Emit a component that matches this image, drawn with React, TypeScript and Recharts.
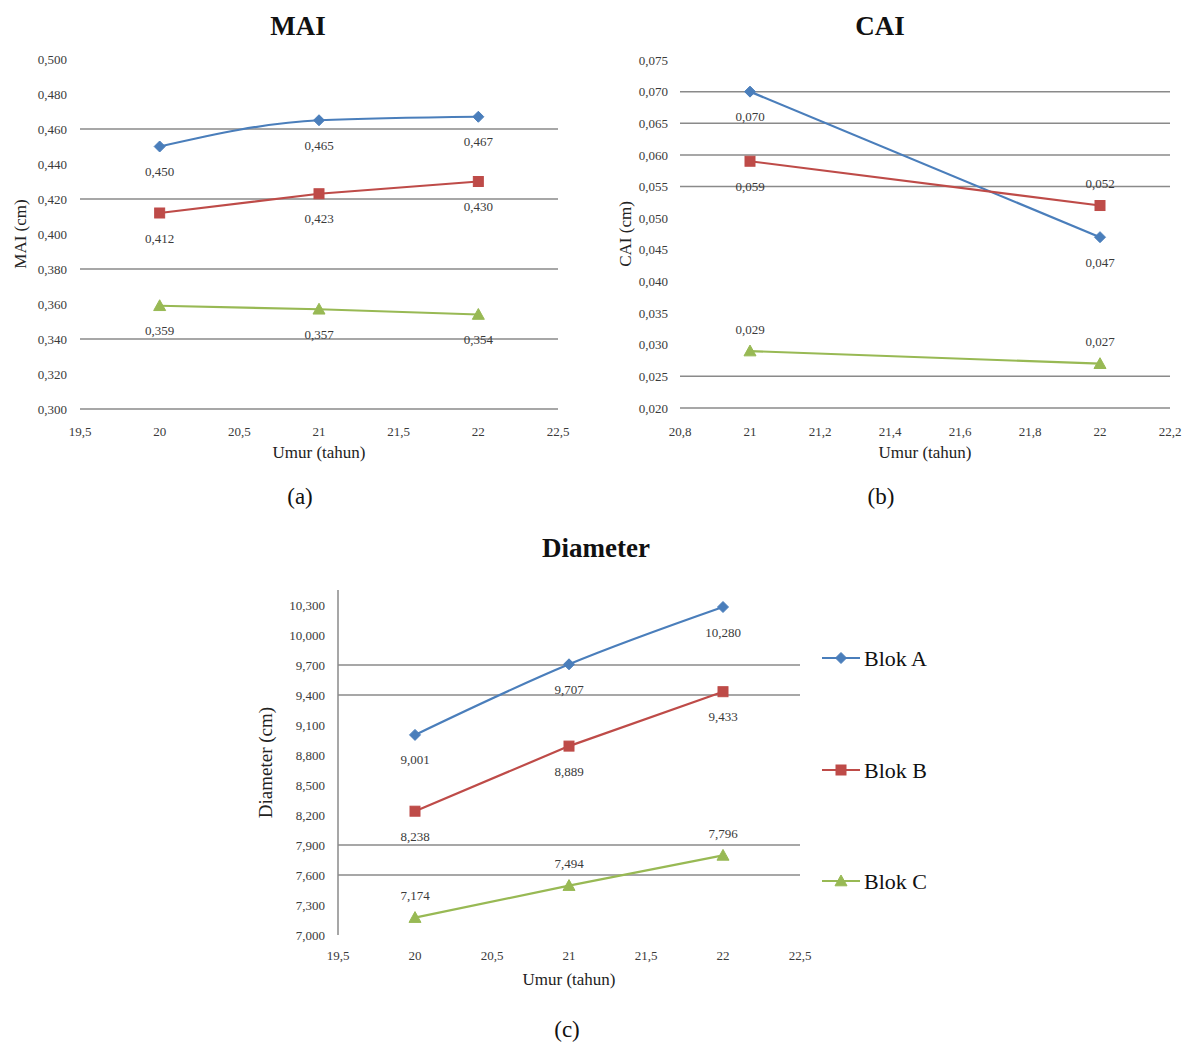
import React from 'react';
import { LineChart, Line, XAxis, YAxis, ReferenceLine, LabelList } from 'recharts';

// ---------- data ----------
const seriesNames = ['Blok A', 'Blok B', 'Blok C'];
const seriesColors = ['#4A7EBB', '#BE4B48', '#98B954'];
const seriesShapes = ['diamond', 'square', 'triangle'];

const maiAge = [20, 21, 22];
const maiBlokA = [0.450, 0.465, 0.467];
const maiBlokB = [0.412, 0.423, 0.430];
const maiBlokC = [0.359, 0.357, 0.354];
const maiYTicks = [0.300, 0.320, 0.340, 0.360, 0.380, 0.400, 0.420, 0.440, 0.460, 0.480, 0.500];
const maiGrid = [0.300, 0.340, 0.380, 0.420, 0.460];
const maiXTicks = [19.5, 20, 20.5, 21, 21.5, 22, 22.5];

const caiAge = [21, 22];
const caiBlokA = [0.070, 0.047];
const caiBlokB = [0.059, 0.052];
const caiBlokC = [0.029, 0.027];
const caiYTicks = [0.020, 0.025, 0.030, 0.035, 0.040, 0.045, 0.050, 0.055, 0.060, 0.065, 0.070, 0.075];
const caiGrid = [0.020, 0.025, 0.055, 0.060, 0.065, 0.070];
const caiXTicks = [20.8, 21, 21.2, 21.4, 21.6, 21.8, 22, 22.2];

const diaAge = [20, 21, 22];
const diaBlokA = [9.001, 9.707, 10.280];
const diaBlokB = [8.238, 8.889, 9.433];
const diaBlokC = [7.174, 7.494, 7.796];
const diaYTicks = [7.0, 7.3, 7.6, 7.9, 8.2, 8.5, 8.8, 9.1, 9.4, 9.7, 10.0, 10.3];
const diaGrid = [7.6, 7.9, 9.4, 9.7];
const diaXTicks = [19.5, 20, 20.5, 21, 21.5, 22, 22.5];

// label placement per series ('b' below, 't' above) for each point
const maiLabelPos = [['b', 'b', 'b'], ['b', 'b', 'b'], ['b', 'b', 'b']];
const caiLabelPos = [['b', 'b'], ['b', 't'], ['t', 't']];
const diaLabelPos = [['b', 'b', 'b'], ['b', 'b', 'b'], ['t', 't', 't']];

const buildRows = (ages: number[], a: number[], b: number[], c: number[]) =>
  ages.map((x, i) => ({ x, A: a[i], B: b[i], C: c[i] }));

const maiRows = buildRows(maiAge, maiBlokA, maiBlokB, maiBlokC);
const caiRows = buildRows(caiAge, caiBlokA, caiBlokB, caiBlokC);
const diaRows = buildRows(diaAge, diaBlokA, diaBlokB, diaBlokC);

const SERIF = '"Liberation Serif", "DejaVu Serif", serif';
const GRID = '#8a8a8a';
const TXT = '#3a3a3a';

const fmt3 = (v: number) => v.toFixed(3).replace('.', ',');
const fmtX = (v: number) => String(v).replace('.', ',');

function Marker({ cx, cy, shape, color }: { cx: number; cy: number; shape: string; color: string }) {
  if (cx == null || cy == null) return null;
  if (shape === 'diamond') {
    const s = 5.5;
    return <polygon points={`${cx},${cy - s} ${cx + s},${cy} ${cx},${cy + s} ${cx - s},${cy}`} fill={color} stroke={color} />;
  }
  if (shape === 'square') {
    const s = 5;
    return <rect x={cx - s} y={cy - s} width={2 * s} height={2 * s} fill={color} stroke={color} />;
  }
  const s = 6;
  return <polygon points={`${cx},${cy - s} ${cx + s},${cy + s * 0.8} ${cx - s},${cy + s * 0.8}`} fill={color} stroke={color} />;
}

const makeLabel = (pos: string[]) => (props: any) => {
  const { x, y, value, index } = props;
  const below = pos[index] !== 't';
  return (
    <text
      x={x}
      y={below ? y + 25 : y - 22}
      textAnchor="middle"
      dominantBaseline="central"
      fontFamily={SERIF}
      fontSize={13}
      fill={TXT}
    >
      {fmt3(value)}
    </text>
  );
};

function renderSeries(labelPos: string[][], smoothFirst: boolean) {
  const keys = ['A', 'B', 'C'];
  return keys.map((k, si) => (
    <Line
      key={k}
      dataKey={k}
      name={seriesNames[si]}
      type={smoothFirst && si === 0 ? 'monotone' : 'linear'}
      stroke={seriesColors[si]}
      strokeWidth={2.2}
      isAnimationActive={false}
      dot={(p: any) => (
        <Marker key={`${k}-${p.index}`} cx={p.cx} cy={p.cy} shape={seriesShapes[si]} color={seriesColors[si]} />
      )}
      activeDot={false}
    >
      <LabelList dataKey={k} content={makeLabel(labelPos[si])} />
    </Line>
  ));
}

const tickStyle = { fontFamily: SERIF, fontSize: 13, fill: TXT };
const axisTitleStyle = { fontFamily: SERIF, fontSize: 17, fill: '#222' };

function Title({ text, left, top }: { text: string; left: number; top: number }) {
  return (
    <div
      style={{
        position: 'absolute',
        left: left - 150,
        width: 300,
        top,
        textAlign: 'center',
        fontFamily: SERIF,
        fontWeight: 'bold',
        fontSize: 27,
        lineHeight: '30px',
        color: '#111',
      }}
    >
      {text}
    </div>
  );
}

function Caption({ text, left, top }: { text: string; left: number; top: number }) {
  return (
    <div
      style={{
        position: 'absolute',
        left: left - 50,
        width: 100,
        top,
        textAlign: 'center',
        fontFamily: SERIF,
        fontSize: 23,
        lineHeight: '26px',
        color: '#111',
      }}
    >
      {text}
    </div>
  );
}

function Legend() {
  const rowsY = [28, 140, 251];
  return (
    <svg width={140} height={290} style={{ position: 'absolute', left: 820, top: 630 }}>
      {seriesNames.map((n, i) => (
        <g key={n}>
          <line x1={2} x2={40} y1={rowsY[i]} y2={rowsY[i]} stroke={seriesColors[i]} strokeWidth={2.2} />
          <Marker cx={21} cy={rowsY[i]} shape={seriesShapes[i]} color={seriesColors[i]} />
          <text x={44} y={rowsY[i]} dominantBaseline="central" fontFamily={SERIF} fontSize={22} fill="#111">
            {n}
          </text>
        </g>
      ))}
    </svg>
  );
}

export default function App() {
  return (
    <div style={{ position: 'absolute', left: 0, top: 0, width: 1190, height: 1048, background: '#fff' }}>
      <Title text="MAI" left={298} top={11} />
      <Title text="CAI" left={880} top={11} />
      <Title text="Diameter" left={596} top={533} />

      {/* (a) MAI */}
      <div style={{ position: 'absolute', left: 0, top: 0 }}>
        <LineChart width={600} height={470} data={maiRows} margin={{ top: 59, right: 42, bottom: 31, left: 10 }}>
          {maiGrid.map((g) => (
            <ReferenceLine key={g} y={g} stroke={GRID} strokeWidth={1.5} />
          ))}
          <XAxis
            type="number"
            dataKey="x"
            domain={[19.5, 22.5]}
            ticks={maiXTicks}
            tickFormatter={fmtX}
            axisLine={false}
            tickLine={false}
            tickMargin={12}
            height={30}
            tick={tickStyle}
            interval={0}
            label={{ value: 'Umur (tahun)', position: 'bottom', offset: 7, style: axisTitleStyle }}
          />
          <YAxis
            type="number"
            domain={[0.3, 0.5]}
            ticks={maiYTicks}
            tickFormatter={fmt3}
            axisLine={false}
            tickLine={false}
            tickMargin={7}
            width={70}
            tick={tickStyle}
            interval={0}
            label={{ value: 'MAI (cm)', angle: -90, position: 'insideLeft', offset: 10, style: { ...axisTitleStyle, textAnchor: 'middle' } }}
          />
          {renderSeries(maiLabelPos, true)}
        </LineChart>
      </div>

      {/* (b) CAI */}
      <div style={{ position: 'absolute', left: 600, top: 0 }}>
        <LineChart width={590} height={470} data={caiRows} margin={{ top: 60, right: 20, bottom: 32, left: 10 }}>
          {caiGrid.map((g) => (
            <ReferenceLine key={g} y={g} stroke={GRID} strokeWidth={1.5} />
          ))}
          <XAxis
            type="number"
            dataKey="x"
            domain={[20.8, 22.2]}
            ticks={caiXTicks}
            tickFormatter={fmtX}
            axisLine={false}
            tickLine={false}
            tickMargin={13}
            height={30}
            tick={tickStyle}
            interval={0}
            label={{ value: 'Umur (tahun)', position: 'bottom', offset: 8, style: axisTitleStyle }}
          />
          <YAxis
            type="number"
            domain={[0.02, 0.075]}
            ticks={caiYTicks}
            tickFormatter={fmt3}
            axisLine={false}
            tickLine={false}
            tickMargin={6}
            width={70}
            tick={tickStyle}
            interval={0}
            label={{ value: 'CAI (cm)', angle: -90, position: 'insideLeft', offset: 15, style: { ...axisTitleStyle, textAnchor: 'middle' } }}
          />
          {renderSeries(caiLabelPos, false)}
        </LineChart>
      </div>

      {/* (c) Diameter */}
      <div style={{ position: 'absolute', left: 250, top: 530 }}>
        <LineChart width={600} height={470} data={diaRows} margin={{ top: 60, right: 50, bottom: 35, left: 5 }}>
          {diaGrid.map((g) => (
            <ReferenceLine key={g} y={g} stroke={GRID} strokeWidth={1.5} />
          ))}
          <XAxis
            type="number"
            dataKey="x"
            domain={[19.5, 22.5]}
            ticks={diaXTicks}
            tickFormatter={fmtX}
            axisLine={false}
            tickLine={false}
            tickMargin={10}
            height={30}
            tick={tickStyle}
            interval={0}
            label={{ value: 'Umur (tahun)', position: 'bottom', offset: 8, style: axisTitleStyle }}
          />
          <YAxis
            type="number"
            domain={[7, 10.45]}
            ticks={diaYTicks}
            tickFormatter={fmt3}
            axisLine={{ stroke: GRID, strokeWidth: 1.5 }}
            tickLine={false}
            tickMargin={7}
            width={83}
            tick={tickStyle}
            interval={0}
            label={{ value: 'Diameter (cm)', angle: -90, position: 'insideLeft', offset: 10, style: { ...axisTitleStyle, fontSize: 19, textAnchor: 'middle' } }}
          />
          {renderSeries(diaLabelPos, true)}
        </LineChart>
      </div>

      <Legend />

      <Caption text="(a)" left={300} top={484} />
      <Caption text="(b)" left={881} top={484} />
      <Caption text="(c)" left={567} top={1017} />
    </div>
  );
}
